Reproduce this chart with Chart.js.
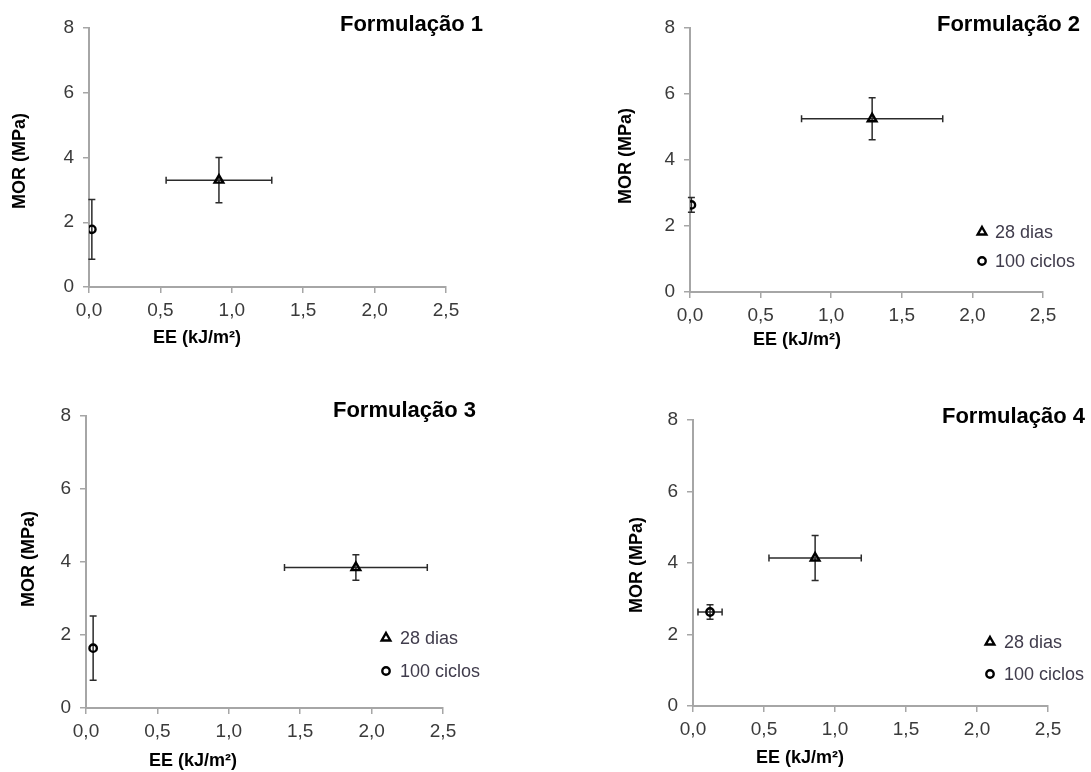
<!DOCTYPE html>
<html>
<head>
<meta charset="utf-8">
<script src="https://cdn.jsdelivr.net/npm/chart.js@4/dist/chart.umd.min.js"></script>
<style>
  body { margin: 0; background: #fff; width: 1091px; height: 772px; position: relative; overflow: hidden; }
  canvas { position: absolute; }
</style>
</head>
<body>
<canvas id="f1" width="545" height="386" style="left:0;top:0"></canvas>
<canvas id="f2" width="546" height="386" style="left:545px;top:0"></canvas>
<canvas id="f3" width="545" height="386" style="left:0;top:386px"></canvas>
<canvas id="f4" width="546" height="386" style="left:545px;top:386px"></canvas>
<script>
// dados
const series = ['28 dias', '100 ciclos'];
const titles = ['Formulação 1', 'Formulação 2', 'Formulação 3', 'Formulação 4'];
const xTicks = [0, 0.5, 1.0, 1.5, 2.0, 2.5];
const yTicks = [0, 2, 4, 6, 8];

// [28 dias, 100 ciclos]
const f1EE = [0.91, 0.02];
const f1MOR = [3.30, 1.78];
const f1ErrEE = [0.37, 0];
const f1ErrMOR = [0.70, 0.92];

const f2EE = [1.29, 0.01];
const f2MOR = [5.25, 2.64];
const f2ErrEE = [0.50, 0];
const f2ErrMOR = [0.64, 0.22];

const f3EE = [1.89, 0.05];
const f3MOR = [3.85, 1.64];
const f3ErrEE = [0.50, 0];
const f3ErrMOR = [0.35, 0.88];

const f4EE = [0.86, 0.12];
const f4MOR = [4.14, 2.63];
const f4ErrEE = [0.325, 0.085];
const f4ErrMOR = [0.63, 0.20];

// posição de cada painel na página (px)
const paineis = [
  { id: 'f1', cx: 0, cy: 0, cw: 545, ch: 386, plot: [89, 28, 446, 287],
    title: [483, 25], yTitle: [20, 161], xTitle: [197, 338], legend: null },
  { id: 'f2', cx: 545, cy: 0, cw: 546, ch: 386, plot: [690, 28, 1043, 292],
    title: [1080, 25], yTitle: [626, 156], xTitle: [797, 340], legend: [982, 995, 232, 261] },
  { id: 'f3', cx: 0, cy: 386, cw: 545, ch: 386, plot: [86, 416, 443, 708],
    title: [476, 411], yTitle: [29, 559], xTitle: [193, 761], legend: [386, 400, 638, 671] },
  { id: 'f4', cx: 545, cy: 386, cw: 546, ch: 386, plot: [693, 420, 1048, 706],
    title: [1085, 417], yTitle: [637, 565], xTitle: [800, 758], legend: [990, 1004, 642, 674] }
];

const dados = [
  [f1EE, f1MOR, f1ErrEE, f1ErrMOR],
  [f2EE, f2MOR, f2ErrEE, f2ErrMOR],
  [f3EE, f3MOR, f3ErrEE, f3ErrMOR],
  [f4EE, f4MOR, f4ErrEE, f4ErrMOR]
];

const fonte = '"Liberation Sans", Arial, sans-serif';
const estilos = [
  { pointStyle: 'triangle', radius: 5 },
  { pointStyle: 'circle', radius: 3.7 }
];

// barras de erro nas duas direções
const barrasErro = {
  id: 'barrasErro',
  beforeDatasetsDraw(chart) {
    const { ctx, scales: { x, y } } = chart;
    const cap = 3.5;
    ctx.save();
    ctx.strokeStyle = '#2b2b2b';
    ctx.lineWidth = 1.5;
    chart.data.datasets.forEach(ds => {
      ds.data.forEach((p, i) => {
        const px = x.getPixelForValue(p.x);
        const py = y.getPixelForValue(p.y);
        const ey = ds.errMOR[i];
        const ex = ds.errEE[i];
        ctx.beginPath();
        if (ey > 0) {
          const y1 = y.getPixelForValue(p.y + ey);
          const y2 = y.getPixelForValue(p.y - ey);
          ctx.moveTo(px, y1); ctx.lineTo(px, y2);
          ctx.moveTo(px - cap, y1); ctx.lineTo(px + cap, y1);
          ctx.moveTo(px - cap, y2); ctx.lineTo(px + cap, y2);
        }
        if (ex > 0) {
          const x1 = x.getPixelForValue(p.x - ex);
          const x2 = x.getPixelForValue(p.x + ex);
          ctx.moveTo(x1, py); ctx.lineTo(x2, py);
          ctx.moveTo(x1, py - cap); ctx.lineTo(x1, py + cap);
          ctx.moveTo(x2, py - cap); ctx.lineTo(x2, py + cap);
        }
        ctx.stroke();
      });
    });
    ctx.restore();
  }
};

// títulos, rótulos dos eixos e legenda
const textos = {
  id: 'textos',
  afterDraw(chart) {
    const p = chart.options.plugins.textos;
    const ctx = chart.ctx;
    ctx.save();
    ctx.fillStyle = '#000';
    ctx.textBaseline = 'middle';

    ctx.font = 'bold 22px ' + fonte;
    ctx.textAlign = 'right';
    ctx.fillText(p.titulo, p.title[0] - p.cx, p.title[1] - p.cy);

    ctx.font = 'bold 18px ' + fonte;
    ctx.textAlign = 'center';
    ctx.fillText('EE (kJ/m²)', p.xTitle[0] - p.cx, p.xTitle[1] - p.cy);

    ctx.save();
    ctx.translate(p.yTitle[0] - p.cx, p.yTitle[1] - p.cy);
    ctx.rotate(-Math.PI / 2);
    ctx.fillText('MOR (MPa)', 0, 0);
    ctx.restore();

    if (p.legend) {
      const [mx, tx, r1, r2] = p.legend;
      [r1, r2].forEach((ry, i) => {
        ctx.strokeStyle = '#000';
        ctx.fillStyle = 'rgba(0,0,0,0)';
        ctx.lineWidth = 2.4;
        Chart.helpers.drawPoint(ctx, {
          pointStyle: estilos[i].pointStyle, radius: estilos[i].radius, borderWidth: 2.4, rotation: 0
        }, mx - p.cx, ry - p.cy);
        ctx.fillStyle = '#403c4c';
        ctx.font = '18px ' + fonte;
        ctx.textAlign = 'left';
        ctx.fillText(series[i], tx - p.cx, ry - p.cy + 1);
      });
    }
    ctx.restore();
  }
};

paineis.forEach((pn, k) => {
  const [ee, mor, errEE, errMOR] = dados[k];
  const [L, T, R, B] = pn.plot;
  const yW = 60, xH = 40;
  const pad = {
    left: (L - pn.cx) - yW,
    top: T - pn.cy,
    right: pn.cw - (R - pn.cx),
    bottom: pn.ch - (B - pn.cy) - xH
  };

  new Chart(document.getElementById(pn.id), {
    type: 'scatter',
    data: {
      datasets: series.map((nome, i) => ({
        label: nome,
        data: [{ x: ee[i], y: mor[i] }],
        errEE: [errEE[i]],
        errMOR: [errMOR[i]],
        pointStyle: estilos[i].pointStyle,
        pointRadius: estilos[i].radius,
        pointBorderWidth: 2.4,
        borderColor: '#000',
        backgroundColor: 'rgba(0,0,0,0)'
      }))
    },
    options: {
      responsive: false,
      animation: false,
      layout: { padding: pad },
      plugins: {
        legend: { display: false },
        tooltip: { enabled: false },
        textos: { ...pn, titulo: titles[k] }
      },
      scales: {
        x: {
          type: 'linear', min: 0, max: 2.5,
          afterBuildTicks: s => { s.ticks = xTicks.map(v => ({ value: v })); },
          afterFit: s => { s.height = xH; },
          ticks: {
            callback: v => v.toFixed(1).replace('.', ','),
            font: { family: fonte, size: 19 }, color: '#3a3a3a', padding: 6
          },
          grid: { drawOnChartArea: false, tickLength: 6, color: '#a6a6a6', lineWidth: 1.5 },
          border: { color: '#a6a6a6', width: 2 }
        },
        y: {
          type: 'linear', min: 0, max: 8,
          afterBuildTicks: s => { s.ticks = yTicks.map(v => ({ value: v })); },
          afterFit: s => { s.width = yW; },
          ticks: {
            font: { family: fonte, size: 19 }, color: '#3a3a3a', padding: 9
          },
          grid: { drawOnChartArea: false, tickLength: 6, color: '#a6a6a6', lineWidth: 1.5 },
          border: { color: '#a6a6a6', width: 2 }
        }
      }
    },
    plugins: [barrasErro, textos]
  });
});
</script>
</body>
</html>
